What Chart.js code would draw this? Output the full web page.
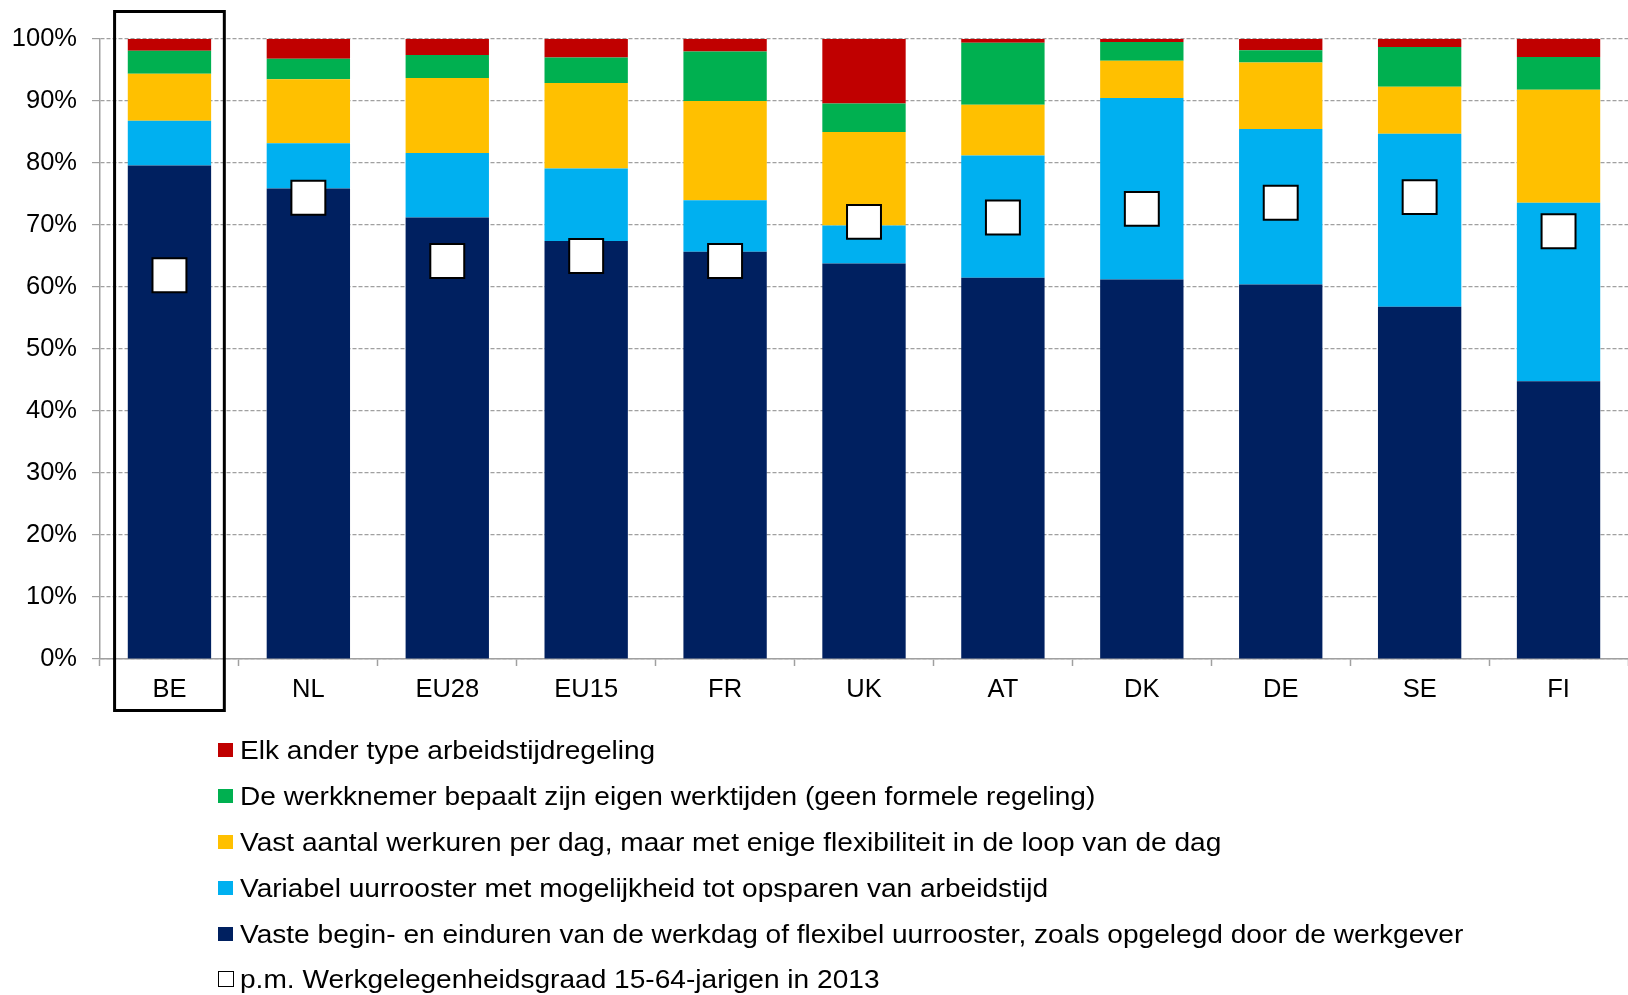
<!DOCTYPE html>
<html lang="nl"><head>
<meta charset="utf-8">
<title>Arbeidstijdregeling</title>
<style type="text/css">
body    { margin:0; background-color:#ffffff; font-family:"Liberation Sans",Arial,sans-serif; }
#wrap   { position:relative; width:1628px; height:995px; overflow:hidden; }
#legend { position:absolute; left:218px; top:727px; font-size:26px; color:#000000; }
.item   { position:relative; height:45.9px; line-height:46px; white-space:nowrap; }
.box    { position:absolute; left:0; top:16px; width:15px; height:14px; }
.text   { position:absolute; left:22px; top:0; transform:scaleX(1.08); transform-origin:left center; }
</style>
<script src="https://cdn.jsdelivr.net/npm/chart.js"></script>
<script>

const categories=['BE','NL','EU28','EU15','FR','UK','AT','DK','DE','SE','FI'];
const vasteUren=[79.6,75.9,71.2,67.4,65.7,63.8,61.5,61.2,60.4,56.8,44.8];
const variabel=[7.2,7.3,10.4,11.7,8.3,6.1,19.7,29.3,25.1,27.9,28.8];
const vastAantal=[7.6,10.3,12.1,13.8,16.0,15.1,8.2,6.0,10.7,7.6,18.2];
const eigenTijden=[3.7,3.3,3.7,4.1,8.0,4.6,10.0,3.0,2.0,6.4,5.3];
const anderType=[1.9,3.2,2.6,3.0,2.0,10.4,0.6,0.5,1.8,1.3,2.9];
const werkgelegenheid=[61.9,74.4,64.2,65.0,64.2,70.5,71.2,72.6,73.6,74.5,69.0];
const yTicks=[0,10,20,30,40,50,60,70,80,90,100];

const seriesNames=[
  'Elk ander type arbeidstijdregeling',
  'De werkknemer bepaalt zijn eigen werktijden (geen formele regeling)',
  'Vast aantal werkuren per dag, maar met enige flexibiliteit in de loop van de dag',
  'Variabel uurrooster met mogelijkheid tot opsparen van arbeidstijd',
  'Vaste begin- en einduren van de werkdag of flexibel uurrooster, zoals opgelegd door de werkgever',
  'p.m. Werkgelegenheidsgraad 15-64-jarigen in 2013'];
const seriesColors=['#c00000','#00b050','#ffc000','#00b0f0','#002060',null];

// kader rond BE
const highlight={id:'highlight',afterDraw(chart) {
  const x=chart.scales.x, ctx=chart.ctx;
  const cx=x.getPixelForValue(0), half=x.width/categories.length*0.395;
  ctx.save(); ctx.strokeStyle='#000000'; ctx.lineWidth=3;
  ctx.strokeRect(cx-half,chart.chartArea.top-27.5,half*2,chart.chartArea.bottom-chart.chartArea.top+79);
  ctx.restore(); }};

function bar(label,data,color) {
  return {type:'bar',label:label,data:data,backgroundColor:color,borderWidth:0,
    barPercentage:0.6,categoryPercentage:1,stack:'s',order:1}; }

function initChart() {
  const data={labels:categories,datasets:[
    {type:'line',label:seriesNames[5],data:werkgelegenheid,showLine:false,stack:'pm',order:0,
     pointStyle:'rect',pointRadius:24,pointHoverRadius:24,pointBackgroundColor:'#ffffff',
     pointBorderColor:'#000000',pointBorderWidth:2},
    bar(seriesNames[4],vasteUren,seriesColors[4]),
    bar(seriesNames[3],variabel,seriesColors[3]),
    bar(seriesNames[2],vastAantal,seriesColors[2]),
    bar(seriesNames[1],eigenTijden,seriesColors[1]),
    bar(seriesNames[0],anderType,seriesColors[0])]};

  const font={family:'"Liberation Sans",Arial,sans-serif',size:25.5};
  new Chart(document.getElementById('chart'),{data:data,plugins:[highlight],options:{
    responsive:false,animation:false,
    layout:{autoPadding:false,padding:{top:39,left:0,right:0,bottom:276}},
    plugins:{legend:{display:false},tooltip:{enabled:false}},
    scales:{
      x:{stacked:true,offset:true,
         grid:{display:true,drawOnChartArea:false,offset:true,tickLength:7,tickColor:'#a0a0a0',tickWidth:1.5},
         border:{color:'#a0a0a0',width:1.5},
         ticks:{color:'#000000',font:font,padding:9,maxRotation:0},
         afterFit:function(s){s.height=60;}},
      y:{stacked:true,min:0,max:100,
         afterBuildTicks:function(s){s.ticks=yTicks.map(v=>({value:v}));},
         grid:{color:'#a0a0a0',tickLength:8,tickColor:'#a0a0a0',tickBorderDash:[],lineWidth:1.2},
         border:{color:'#a0a0a0',width:1.5,dash:[4,2]},
         ticks:{color:'#000000',font:font,padding:15,callback:function(v){return v+'%';}},
         afterFit:function(s){s.width=100;}}}}});

  let html='';
  for (let i=0;i<seriesNames.length;i++) {
    const style=seriesColors[i] ? 'background:'+seriesColors[i]+';' : 'border:1px solid #000;width:14px;height:14px;top:15px;';
    html+='<div class="item"><span class="box" style="'+style+'"></span><span class="text">'+seriesNames[i]+'</span></div>'; }
  document.getElementById('legend').innerHTML=html; }

</script></head>
<body onload="initChart();">
<div id="wrap">
  <canvas id="chart" width="1628" height="995"></canvas>
  <div id="legend"></div>
</div>
</body></html>
